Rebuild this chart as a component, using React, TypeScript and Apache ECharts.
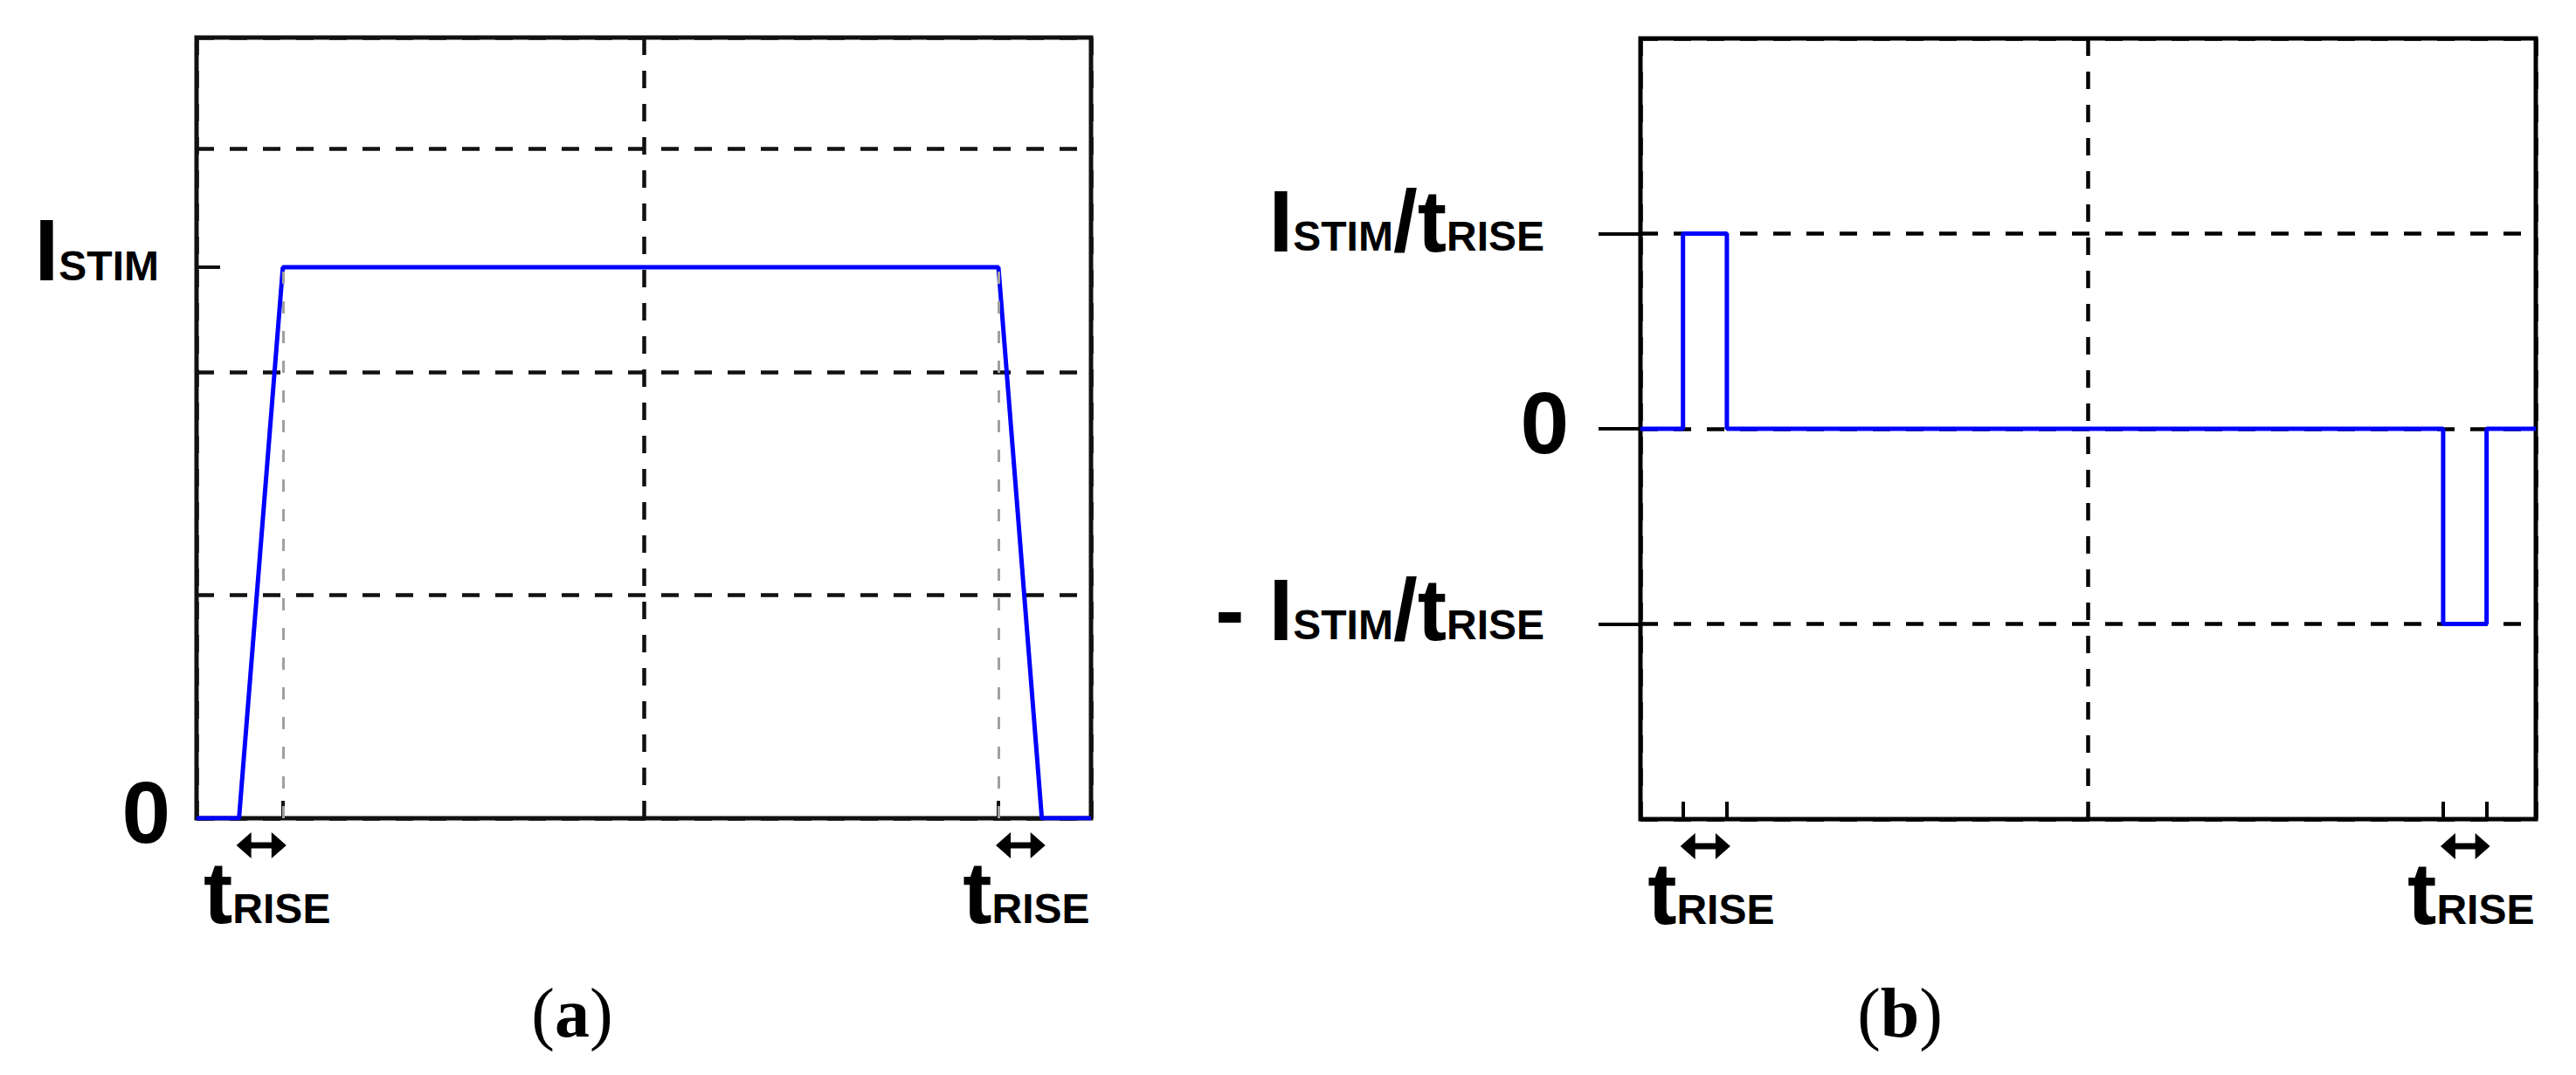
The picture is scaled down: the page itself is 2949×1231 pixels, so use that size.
import React, { useEffect, useRef } from 'react';
import * as echarts from 'echarts';

// ---- data ----
const timeMin = 0;
const timeMax = 2;
const riseEdges: number[][] = [[0.095, 0.193], [1.793, 1.890]];
const leftTime = [0, 0.095, 0.193, 1.793, 1.890, 2];
const leftCurrent = [0, 0, 2.47, 2.47, 0, 0];
const iStim = 2.47;
const leftYMin = 0;
const leftYMax = 3.5;
const rightTime = [0, 0.095, 0.095, 0.193, 0.193, 1.793, 1.793, 1.890, 1.890, 2];
const rightSlope = [0, 0, 1, 1, 0, 0, -1, -1, 0, 0];
const rightYMin = -2;
const rightYMax = 2;
const leftYLabelValues = [0, iStim];
const rightYLabelValues = [1, 0, -1];
const leftBottomTicks = [0.193, 1.793];
const rightBottomTicks = [0.095, 0.193, 1.793, 1.890];
const leftGuideLines = [0.193, 1.793];
const riseLabelValues = riseEdges.map(([a, b]) => (a + b) / 2);
const captionLetters = ['a', 'b'];

const SANS = '"Liberation Sans", Arial, sans-serif';
const SERIF = '"Liberation Serif", "Times New Roman", serif';

const big = (pb: number, pl = 0) => ({
  fontFamily: SANS, fontWeight: 'bold', fontSize: 100, color: '#000',
  lineHeight: 100, verticalAlign: 'bottom', padding: [0, 0, pb, pl],
});
const small = (pb: number, pr = 0) => ({
  fontFamily: SANS, fontWeight: 'bold', fontSize: 48, color: '#000',
  lineHeight: 100, verticalAlign: 'bottom', padding: [0, pr, pb, 0],
});

const dash = (color: string) => ({ color, width: 4.5, type: [20, 18] });
const noLine = { show: false, onZero: false };

export default function App() {
  const ref = useRef<HTMLDivElement>(null);
  useEffect(() => {
    document.body.style.margin = '0';
    if (!ref.current) return;
    const chart = echarts.init(ref.current, undefined, { renderer: 'svg' });

    const riseRich = { t: big(0, 14), r: small(8) };

    const option: any = {
      animation: false,
      backgroundColor: '#fff',
      grid: [
        { left: 225, top: 43, width: 1024, height: 894, show: true, borderColor: '#111', borderWidth: 5, outerBoundsMode: 'none' },
        { left: 1878, top: 44, width: 1025, height: 894, show: true, borderColor: '#000', borderWidth: 5, outerBoundsMode: 'none' },
      ],
      xAxis: [
        {
          gridIndex: 0, type: 'value', min: timeMin, max: timeMax, interval: 1, position: 'bottom',
          axisLine: noLine, axisTick: { show: false }, axisLabel: { show: false },
          splitLine: { show: true, lineStyle: dash('#111') },
        },
        {
          gridIndex: 0, type: 'value', min: timeMin, max: timeMax, position: 'bottom',
          axisLine: noLine,
          axisTick: { show: true, inside: true, length: 20, customValues: leftBottomTicks, lineStyle: { color: '#111', width: 4 } },
          axisLabel: { show: true, customValues: riseLabelValues, margin: 35, formatter: () => '{t|t}{r|RISE}', rich: riseRich },
          splitLine: { show: false },
        },
        {
          gridIndex: 1, type: 'value', min: timeMin, max: timeMax, interval: 1, position: 'bottom',
          axisLine: noLine, axisTick: { show: false }, axisLabel: { show: false },
          splitLine: { show: true, lineStyle: dash('#000') },
        },
        {
          gridIndex: 1, type: 'value', min: timeMin, max: timeMax, position: 'bottom',
          axisLine: noLine,
          axisTick: { show: true, inside: true, length: 20, customValues: rightBottomTicks, lineStyle: { color: '#000', width: 4 } },
          axisLabel: { show: true, customValues: riseLabelValues, margin: 35, formatter: () => '{t|t}{r|RISE}', rich: riseRich },
          splitLine: { show: false },
        },
      ],
      yAxis: [
        {
          gridIndex: 0, type: 'value', min: leftYMin, max: leftYMax, interval: 1, position: 'left',
          axisLine: noLine, axisTick: { show: false }, axisLabel: { show: false },
          splitLine: { show: true, lineStyle: dash('#111') },
        },
        {
          gridIndex: 0, type: 'value', min: leftYMin, max: leftYMax, position: 'left',
          axisLine: noLine,
          axisTick: { show: true, inside: true, length: 27, customValues: [iStim], lineStyle: { color: '#111', width: 4 } },
          axisLabel: {
            show: true, customValues: leftYLabelValues, margin: 30,
            formatter: (v: number) => (v === 0 ? '{zero|0}' : '{bI|I}{sI|STIM}'),
            rich: { zero: big(7), bI: big(20), sI: small(28, 13) },
          },
          splitLine: { show: false },
        },
        {
          gridIndex: 1, type: 'value', min: rightYMin, max: rightYMax, interval: 1, position: 'left',
          axisLine: noLine, axisTick: { show: false }, axisLabel: { show: false },
          splitLine: { show: true, lineStyle: dash('#000') },
        },
        {
          gridIndex: 1, type: 'value', min: rightYMin, max: rightYMax, position: 'left',
          axisLine: noLine,
          axisTick: { show: true, inside: false, length: 48, customValues: rightYLabelValues, lineStyle: { color: '#000', width: 4 } },
          axisLabel: {
            show: true, customValues: rightYLabelValues, margin: 82,
            formatter: (v: number) =>
              v === 0 ? '{zero|0}'
                : v > 0 ? '{bU|I}{sU|STIM}{bU|/t}{sUe|RISE}'
                  : '{bD|- I}{sD|STIM}{bD|/t}{sDe|RISE}',
            rich: {
              zero: big(7),
              bU: big(15), sU: small(23), sUe: small(23, 28),
              bD: big(17), sD: small(25), sDe: small(25, 28),
            },
          },
          splitLine: { show: false },
        },
      ],
      series: [
        {
          type: 'line', xAxisIndex: 0, yAxisIndex: 0, z: 3,
          data: leftTime.map((t, i) => [t, leftCurrent[i]]),
          symbol: 'none', showSymbol: false,
          lineStyle: { color: '#0000ff', width: 5 },
          markLine: {
            silent: true, symbol: ['none', 'none'], label: { show: false },
            lineStyle: { color: '#a0a0a0', width: 3, type: [14, 20] },
            data: leftGuideLines.map((x) => [{ coord: [x, leftYMin] }, { coord: [x, iStim] }]),
          },
        },
        {
          type: 'line', xAxisIndex: 2, yAxisIndex: 2, z: 3,
          data: rightTime.map((t, i) => [t, rightSlope[i]]),
          symbol: 'none', showSymbol: false,
          lineStyle: { color: '#0000ff', width: 5 },
        },
      ],
    };
    chart.setOption(option);

    // arrows under the rise intervals, placed through the axes' scales
    const graphics: any[] = [];
    const addArrows = (xi: number, yi: number, yBottom: number) => {
      riseEdges.forEach(([a, b]) => {
        const p1 = chart.convertToPixel({ xAxisIndex: xi, yAxisIndex: yi }, [a, yBottom]) as number[];
        const p2 = chart.convertToPixel({ xAxisIndex: xi, yAxisIndex: yi }, [b, yBottom]) as number[];
        const x1 = p1[0] - 3;
        const x2 = p2[0] + 4;
        const yc = p1[1] + 31;
        const hl = 17, hh = 15, st = 3.5;
        graphics.push({
          type: 'polygon',
          shape: {
            points: [
              [x1, yc], [x1 + hl, yc - hh], [x1 + hl, yc - st], [x2 - hl, yc - st], [x2 - hl, yc - hh],
              [x2, yc], [x2 - hl, yc + hh], [x2 - hl, yc + st], [x1 + hl, yc + st], [x1 + hl, yc + hh],
            ],
          },
          style: { fill: '#000' },
        });
      });
    };
    addArrows(0, 0, leftYMin);
    addArrows(2, 2, rightYMin);

    const captionX = [655, 2175];
    captionLetters.forEach((letter, i) => {
      graphics.push({
        type: 'text', x: captionX[i], y: 1160,
        style: {
          text: `{p|(}{b|${letter}}{p|)}`,
          align: 'center', verticalAlign: 'middle',
          rich: {
            p: { fontFamily: SERIF, fontSize: 80, fill: '#000' },
            b: { fontFamily: SERIF, fontSize: 80, fontWeight: 'bold', fill: '#000' },
          },
        },
      });
    });
    chart.setOption({ graphic: graphics });

    return () => chart.dispose();
  }, []);

  return <div ref={ref} style={{ width: 2949, height: 1231, position: 'absolute', left: 0, top: 0 }} />;
}
